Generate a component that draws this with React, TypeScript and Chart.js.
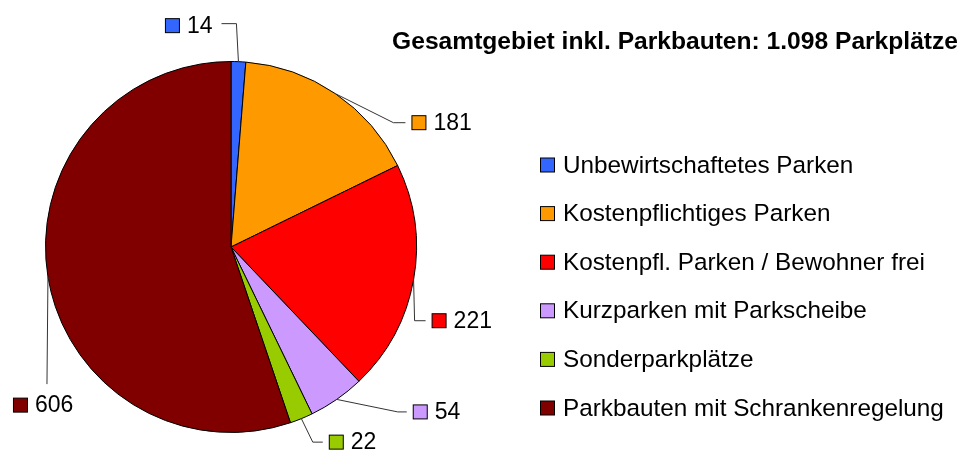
import React, { useEffect, useRef } from "react";
import { Chart, registerables } from "chart.js";

Chart.register(...registerables);

// ---- data ----
const categories = [
  "Unbewirtschaftetes Parken",
  "Kostenpflichtiges Parken",
  "Kostenpfl. Parken / Bewohner frei",
  "Kurzparken mit Parkscheibe",
  "Sonderparkplätze",
  "Parkbauten mit Schrankenregelung",
];
const values = [14, 181, 221, 54, 22, 606];
const valueLabels = ["14", "181", "221", "54", "22", "606"];
const titleText = "Gesamtgebiet inkl. Parkbauten: 1.098 Parkplätze";

// ---- styles ----
const colors = ["#3366ff", "#ff9900", "#ff0000", "#cc99ff", "#99cc00", "#800000"];
const FONT = '"Liberation Sans", Arial, sans-serif';
const LABEL_FONT_SIZE = 23;
const LEGEND_FONT_SIZE = 24.3;
const TITLE_FONT_SIZE = 24.6;
const SQ = 15;

// label placement relative to the outer midpoint of each slice
const labelPlacement = [
  { dx: -73.5, dy: -36, side: "left" },
  { dx: 76, dy: 29, side: "right", elbow: 18 },
  { dx: 18, dy: 41, side: "right", elbow: "vertical" },
  { dx: 76, dy: 12.5, side: "right", elbow: 15 },
  { dx: 27.4, dy: 23.5, side: "right", elbow: 16 },
  { dx: -35, dy: 128, side: "below" },
];

const labelsPlugin = {
  id: "customLabels",
  afterDraw(chart: any) {
    const ctx = chart.ctx as CanvasRenderingContext2D;
    const meta = chart.getDatasetMeta(0);
    ctx.save();
    meta.data.forEach((arc: any, i: number) => {
      const p = arc.getProps(["x", "y", "startAngle", "endAngle", "outerRadius"], true);
      const a = (p.startAngle + p.endAngle) / 2;
      const mx = p.x + Math.cos(a) * p.outerRadius;
      const my = p.y + Math.sin(a) * p.outerRadius;
      const pl: any = labelPlacement[i];
      const sx = mx + pl.dx;
      const cy = my + pl.dy;
      ctx.font = `${LABEL_FONT_SIZE}px ${FONT}`;
      const tw = ctx.measureText(valueLabels[i]).width;
      // leader
      ctx.strokeStyle = "#333333";
      ctx.lineWidth = 1;
      ctx.beginPath();
      ctx.moveTo(mx, my);
      if (pl.side === "right") {
        const ex = pl.elbow === "vertical" ? mx + 1 : sx - pl.elbow;
        ctx.lineTo(ex, cy);
        ctx.lineTo(sx - 6, cy);
      } else if (pl.side === "left") {
        const tEnd = sx + SQ + 8 + tw;
        ctx.lineTo(mx - 2, cy - 2);
        ctx.lineTo(tEnd + 8, cy - 2);
      } else {
        ctx.lineTo(mx - 1, cy - 21);
      }
      ctx.stroke();
      // square
      ctx.fillStyle = colors[i];
      ctx.fillRect(sx + 0.5, cy - SQ / 2 + 0.5, SQ - 1, SQ - 1);
      ctx.strokeStyle = "#000";
      ctx.lineWidth = 1;
      ctx.strokeRect(sx + 0.5, cy - SQ / 2 + 0.5, SQ - 1, SQ - 1);
      // text
      ctx.fillStyle = "#000";
      ctx.textBaseline = "middle";
      ctx.textAlign = "left";
      ctx.fillText(valueLabels[i], sx + SQ + 7, cy + 1);
    });

    // legend
    const lx = 540;
    const ly0 = 165;
    const lstep = 48.6;
    ctx.font = `${LEGEND_FONT_SIZE}px ${FONT}`;
    categories.forEach((c, i) => {
      const y = ly0 + i * lstep;
      ctx.fillStyle = colors[i];
      ctx.fillRect(lx + 0.5, y - SQ / 2 + 0.5, SQ - 1, SQ - 1);
      ctx.strokeStyle = "#000";
      ctx.strokeRect(lx + 0.5, y - SQ / 2 + 0.5, SQ - 1, SQ - 1);
      ctx.fillStyle = "#000";
      ctx.textBaseline = "middle";
      ctx.textAlign = "left";
      ctx.fillText(c, 563, y + 1);
    });

    // title
    ctx.font = `bold ${TITLE_FONT_SIZE}px ${FONT}`;
    ctx.textAlign = "right";
    ctx.textBaseline = "middle";
    ctx.fillStyle = "#000";
    ctx.fillText(titleText, 958, 42);
    ctx.restore();
  },
};

export default function App() {
  const ref = useRef<HTMLCanvasElement | null>(null);
  useEffect(() => {
    document.body.style.margin = "0";
    const canvas = ref.current!;
    const chart = new Chart(canvas, {
      type: "pie",
      data: {
        labels: categories,
        datasets: [
          {
            data: values,
            backgroundColor: colors,
            borderColor: "#000000",
            borderWidth: 1,
          },
        ],
      },
      options: {
        responsive: false,
        animation: false,
        devicePixelRatio: 1,
        events: [],
        layout: { padding: { left: 45, top: 61, right: 551, bottom: 20 } },
        plugins: {
          legend: { display: false },
          tooltip: { enabled: false },
          title: { display: false },
        },
      },
      plugins: [labelsPlugin],
    });
    return () => chart.destroy();
  }, []);
  return (
    <div style={{ width: 968, height: 453, background: "#fff" }}>
      <canvas ref={ref} width={968} height={453} />
    </div>
  );
}
